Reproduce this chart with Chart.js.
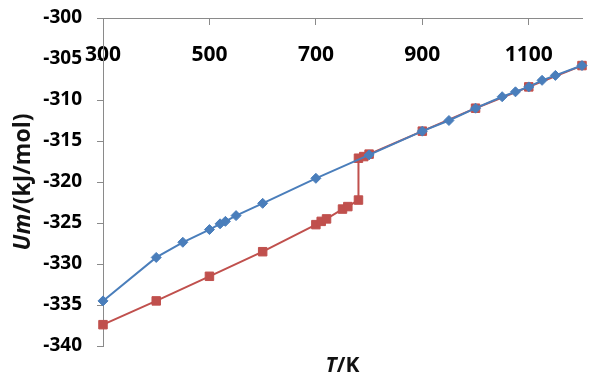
<!DOCTYPE html>
<html>
<head>
<meta charset="utf-8">
<script src="https://cdn.jsdelivr.net/npm/chart.js@4/dist/chart.umd.min.js"></script>
<style>
  html, body { margin: 0; padding: 0; background: #fff; }
  #wrap { width: 589px; height: 383px; }
</style>
</head>
<body>
<div id="wrap"><canvas id="myChart" width="589" height="383"></canvas></div>
<script>
// blue series (diamonds)
const blueT = [300, 400, 450, 500, 520, 530, 550, 600, 700, 800, 900, 950, 1000, 1050, 1075, 1100, 1125, 1150, 1200];
const blueU = [-334.5, -329.2, -327.35, -325.8, -325.1, -324.8, -324.1, -322.6, -319.55, -316.7, -313.8, -312.5, -311.0, -309.6, -309.0, -308.4, -307.6, -307.0, -305.8];

// red series (squares)
const redT = [300, 400, 500, 600, 700, 710, 720, 750, 760, 780, 780, 790, 800, 900, 1000, 1100, 1200];
const redU = [-337.4, -334.5, -331.5, -328.5, -325.2, -324.8, -324.5, -323.3, -323.0, -322.2, -317.1, -316.9, -316.6, -313.8, -311.0, -308.4, -305.8];

const xTicks = [300, 500, 700, 900, 1100];
const yMin = -340, yMax = -300, yStep = 5;

const axisGray = '#8a8a8a';
const font = '"Open Sans", "Noto Sans", sans-serif';

function toPoints(xs, ys) {
    return xs.map((x, i) => ({ x: x, y: ys[i] }));
}

// draws a string made of pieces with different styles, centred on (0,0)
function drawPieces(ctx, pieces) {
    let total = 0;
    pieces.forEach(p => { ctx.font = p[1]; total += ctx.measureText(p[0]).width; });
    let x = -total / 2;
    pieces.forEach(p => {
        ctx.font = p[1];
        ctx.fillText(p[0], x, 0);
        x += ctx.measureText(p[0]).width;
    });
}

const axisTitles = {
    id: 'axisTitles',
    afterDraw(chart) {
        const ctx = chart.ctx;
        const area = chart.chartArea;
        ctx.save();
        ctx.fillStyle = '#111';
        ctx.textAlign = 'left';
        ctx.textBaseline = 'middle';

        ctx.save();
        ctx.translate(23, 182);
        ctx.rotate(-Math.PI / 2);
        drawPieces(ctx, [
            ['Um', 'italic bold 23px ' + font],
            ['/(kJ/mol)', 'bold 23px ' + font]
        ]);
        ctx.restore();

        ctx.save();
        ctx.translate((area.left + area.right) / 2, 366);
        drawPieces(ctx, [
            ['T', 'italic bold 21px ' + font],
            ['/K', 'bold 21px ' + font]
        ]);
        ctx.restore();

        ctx.restore();
    }
};

const ctx = document.getElementById('myChart').getContext('2d');
const myChart = new Chart(ctx, {
    type: 'scatter',
    data: {
        datasets: [{
            label: 'blue',
            data: toPoints(blueT, blueU),
            showLine: true,
            borderColor: '#4a7ebb',
            backgroundColor: '#4a7ebb',
            borderWidth: 2,
            pointStyle: 'rectRot',
            pointRadius: 5,
            pointBorderWidth: 1,
            clip: false
        }, {
            label: 'red',
            data: toPoints(redT, redU),
            showLine: true,
            borderColor: '#c0504d',
            backgroundColor: '#c0504d',
            borderWidth: 2,
            pointStyle: 'rect',
            pointRadius: 6,
            pointBorderWidth: 1,
            clip: false
        }]
    },
    options: {
        responsive: false,
        animation: false,
        layout: {
            padding: { left: 0, right: 2, top: 18, bottom: 37 }
        },
        scales: {
            x: {
                type: 'linear',
                min: 300,
                max: 1200,
                position: { y: yMax },
                afterBuildTicks: (axis) => {
                    axis.ticks = xTicks.map(v => ({ value: v }));
                },
                grid: {
                    drawOnChartArea: false,
                    drawTicks: true,
                    tickLength: 6,
                    color: axisGray
                },
                border: { color: axisGray, width: 1 },
                ticks: {
                    padding: 18,
                    color: '#000',
                    font: { family: font, size: 21, weight: 'bold' },
                    maxRotation: 0,
                    callback: (v) => String(v)
                }
            },
            y: {
                min: yMin,
                max: yMax,
                afterFit: (scale) => {
                    scale.width = 103;
                    scale.paddingTop = 0;
                    scale.paddingBottom = 0;
                },
                grid: {
                    drawOnChartArea: false,
                    drawTicks: true,
                    tickLength: 6,
                    color: axisGray
                },
                border: { color: axisGray, width: 1 },
                ticks: {
                    stepSize: yStep,
                    padding: 15,
                    color: '#000',
                    font: { family: font, size: 19, weight: 'bold' }
                }
            }
        },
        plugins: {
            legend: { display: false },
            tooltip: { enabled: false }
        }
    },
    plugins: [axisTitles]
});
</script>
</body>
</html>
